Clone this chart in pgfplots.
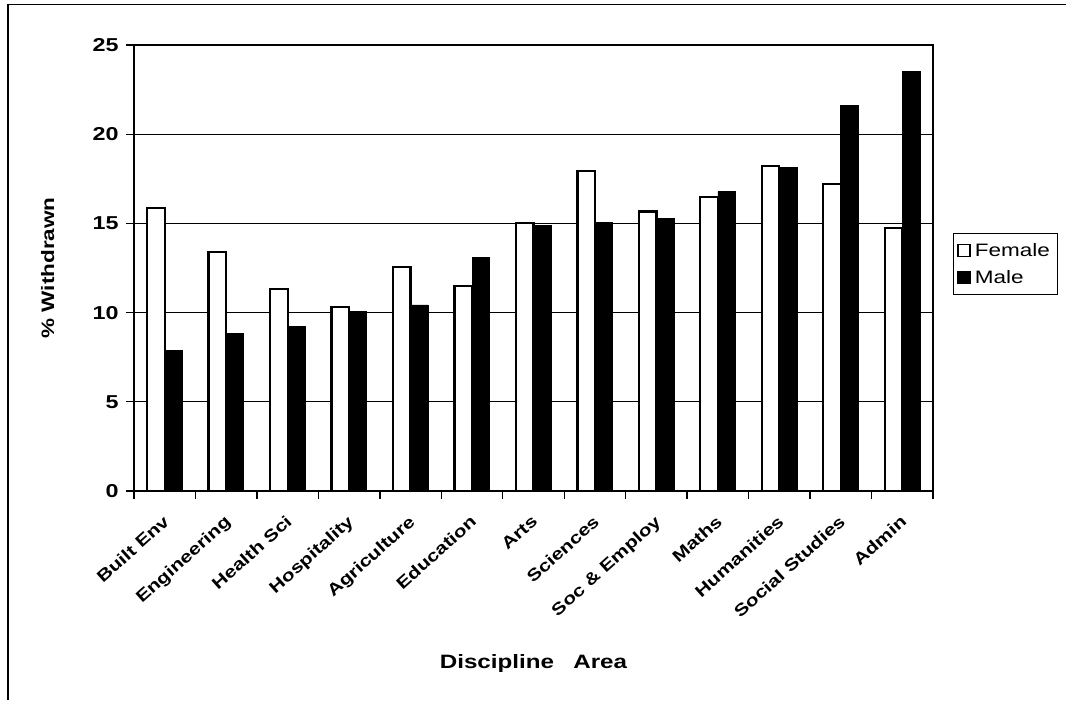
\documentclass[border=0pt]{standalone}
\usepackage{fontspec}
\setmainfont{Liberation Sans}[FakeStretch=1.25]
\usepackage{pgfplots}
\usepackage{pgfplotstable}
\pgfplotsset{compat=1.18}

\pgfplotstableread{
idx female male
0  15.88  7.86
1  13.38  8.84
2  11.32  9.21
3  10.30 10.05
4  12.54 10.43
5  11.49 13.10
6  15.04 14.87
7  17.95 15.04
8  15.66 15.29
9  16.50 16.78
10 18.23 18.14
11 17.19 21.62
12 14.73 23.53
}\datatable

\begin{document}
\begin{tikzpicture}
\path[use as bounding box] (0pt,0pt) rectangle (799.5pt,525pt);
\draw[line width=1.1pt] (6pt,0pt) -- (6pt,521.6pt) -- (799.5pt,521.6pt);
\begin{axis}[
  at={(100.5pt,156.75pt)}, anchor=south west,
  scale only axis,
  width=599.25pt, height=334.5pt,
  xmin=-0.5, xmax=12.5, ymin=0, ymax=25,
  ytick={0,5,...,25},
  xtick={-0.5,0.5,...,12.5},
  x tick label as interval,
  xtick pos=left, ytick pos=left,
  xticklabels={Built Env, Engineering, Health Sci, Hospitality, Agriculture, Education, Arts, Sciences, Soc \& Employ, Maths, Humanities, Social Studies, Admin},
  tick align=outside,
  major tick length=6pt,
  tick style={black, line width=1pt},
  axis line style={line width=1.5pt},
  ymajorgrids,
  grid style={black, line width=0.8pt},
  /pgf/number format/assume math mode=true,
  yticklabel style={font=\bfseries\fontsize{14}{16}\selectfont, xshift=-2pt},
  xticklabel style={rotate=42, anchor=north east, font=\bfseries\fontsize{12.5}{14}\selectfont, inner sep=1pt, xshift=-8pt, yshift=-6pt},
  xlabel={Discipline\quad Area},
  ylabel={\% Withdrawn},
  xlabel style={at={(axis description cs:0.5,-0.386)}, anchor=center, font=\bfseries\fontsize{14.5}{16}\selectfont},
  ylabel style={at={(axis description cs:-0.108,0.5)}, anchor=center, font=\bfseries\fontsize{13.5}{16}\selectfont},
  ybar=0pt,
  bar width=0.286,
  legend cell align=left,
  legend image code/.code={\draw[#1, line width=1.2pt] (0pt,-4.5pt) rectangle (9pt,4.5pt);},
  legend style={at={(axis description cs:1.0247,0.578)}, anchor=north west,
    draw=black, line width=0.8pt, font=\fontsize{13.5}{16}\selectfont,
    inner xsep=3pt, inner ysep=5pt, row sep=5pt,
    nodes={inner xsep=3pt}},
]
\addplot[fill=white, draw=black, line width=1.7pt, bar shift=-0.143] table[x=idx,y=female]{\datatable};
\addplot[fill=black, draw=black, line width=0.5pt, bar shift=0.143] table[x=idx,y=male]{\datatable};
\legend{Female, Male}
\end{axis}
\end{tikzpicture}
\end{document}
